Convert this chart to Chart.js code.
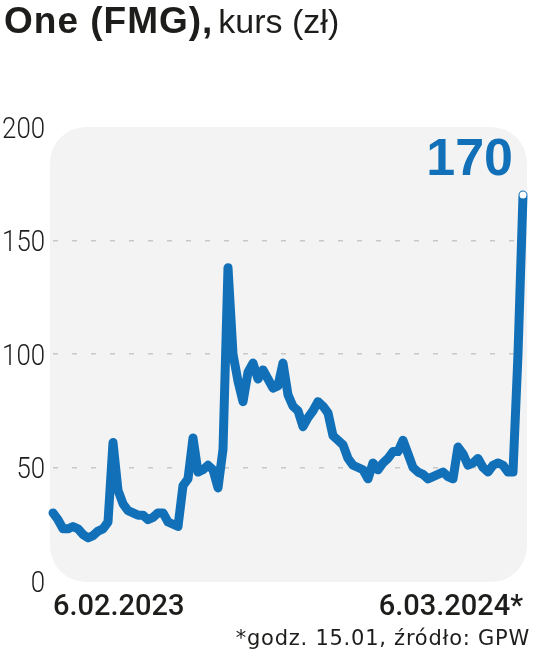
<!DOCTYPE html>
<html><head><meta charset="utf-8">
<script src="https://cdn.jsdelivr.net/npm/chart.js@4"></script>
<style>html,body{margin:0;padding:0;background:#fff;}#wrap{position:relative;width:536px;height:665px;}</style>
</head><body><div id="wrap"><canvas id="c" width="536" height="665"></canvas></div>
<script>
const prices = [30,27,23,23,24,23,20.5,19,20,22,
  23,26,61,40,34,31,30,29,29,27,
  28,30,30,26,25,24,42,45,63,48,
  49,51,49,41,58,138,100,88,79,92,
  96,89,93,89,85,86,96,82,77,75,
  68,72,75,79,77,74,64,62,60,54,
  51,50,49,45,52,49,52,54,57,57,
  62,56,50,48,47,45,46,47,48,46,
  45,59,56,51,52,54,50,48,51,52,
  51,48,48,100,170];
const categories = prices.map((_, i) => String(i));
const xTickLabels = ['6.02.2023', '6.03.2024*'];
const yTickStep = 50;
const yMin = 0, yMax = 200;
const titleBold = 'One (FMG),';
const titleRegular = 'kurs (zł)';
const lastValueLabel = '170';
const footnote = '*godz. 15.01, źródło: GPW';

const BLUE = '#1170b8';
const INK = '#1d1d1b';

const bgPlugin = {
  id: 'bg',
  beforeDraw(chart) {
    const {ctx, chartArea: a} = chart;
    ctx.save();
    ctx.fillStyle = '#f3f3f3';
    ctx.beginPath();
    ctx.roundRect(a.left - 3, a.top, a.right - a.left + 7, a.bottom - a.top + 1, 36);
    ctx.fill();
    ctx.restore();
  }
};
const textPlugin = {
  id: 'texts',
  afterDraw(chart) {
    const {ctx} = chart;
    const xs = chart.scales.x, ys = chart.scales.y;
    ctx.save();
    ctx.textBaseline = 'alphabetic';
    ctx.fillStyle = INK;
    ctx.textAlign = 'left';
    ctx.font = 'bold 37px "Liberation Sans", Arial, sans-serif';
    ctx.letterSpacing = '1px';
    ctx.fillText(titleBold, 4, 33);
    const w = ctx.measureText(titleBold).width;
    ctx.font = '34px "Liberation Sans", Arial, sans-serif';
    ctx.letterSpacing = '0px';
    ctx.fillText(titleRegular, 4 + w + 5, 33);
    // y tick labels (condensed)
    ctx.font = '300 30px Roboto, sans-serif';
    ctx.textAlign = 'right';
    ys.ticks.forEach(t => {
      const y = ys.getPixelForValue(t.value);
      ctx.save();
      ctx.translate(45, y + 10.5);
      ctx.scale(0.86, 1);
      ctx.fillText(String(t.value), 0, 0);
      ctx.restore();
    });
    // last value label
    const li = prices.length - 1;
    const lx = xs.getPixelForValue(li);
    const ly = ys.getPixelForValue(prices[li]);
    ctx.fillStyle = BLUE;
    ctx.textAlign = 'right';
    ctx.font = 'bold 52px "Liberation Sans", Arial, sans-serif';
    ctx.fillText(lastValueLabel, lx - 10, ly - 20);
    // footnote
    ctx.fillStyle = INK;
    ctx.font = '21px "DejaVu Sans", sans-serif';
    ctx.letterSpacing = '0.75px';
    ctx.fillText(footnote, 530, 645);
    ctx.restore();
  }
};

new Chart(document.getElementById('c'), {
  type: 'line',
  data: {
    labels: categories,
    datasets: [{
      data: prices,
      borderColor: BLUE,
      borderWidth: 9,
      borderJoinStyle: 'round',
      borderCapStyle: 'round',
      tension: 0,
      fill: false,
      pointRadius: prices.map((_, i) => i === prices.length - 1 ? 3.5 : 0),
      pointBackgroundColor: '#ffffff',
      pointBorderWidth: 0,
      pointHoverRadius: 0,
      clip: 10
    }]
  },
  options: {
    responsive: false,
    animation: false,
    events: [],
    layout: {padding: {top: 127, right: 13, bottom: 0, left: 0}},
    plugins: {legend: {display: false}, tooltip: {enabled: false}},
    scales: {
      x: {
        type: 'category',
        offset: false,
        grid: {display: false},
        border: {display: false},
        ticks: {
          autoSkip: false, maxRotation: 0, minRotation: 0, align: 'inner', padding: 1,
          color: INK,
          font: {family: 'Roboto', weight: '500', size: 29},
          callback: (v, i, arr) => i === 0 ? xTickLabels[0] : (i === arr.length - 1 ? xTickLabels[1] : '')
        },
        afterFit(s) { s.height = 84; }
      },
      y: {
        min: yMin, max: yMax,
        grid: {
          color: c => (c.tick && c.tick.value > yMin && c.tick.value < yMax) ? '#c8c8c8' : 'rgba(0,0,0,0)',
          lineWidth: 1.5, drawTicks: false
        },
        border: {display: false, dash: [5, 14]},
        ticks: {stepSize: yTickStep, display: false},
        afterFit(s) { s.width = 53; }
      }
    }
  },
  plugins: [bgPlugin, textPlugin]
});
</script></body></html>
